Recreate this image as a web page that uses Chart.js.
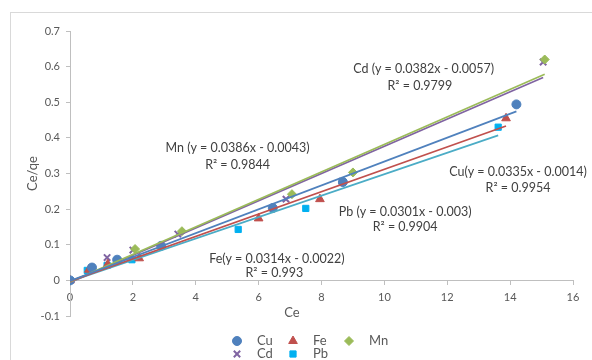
<!DOCTYPE html>
<html><head><meta charset="utf-8">
<script src="https://cdn.jsdelivr.net/npm/chart.js@4/dist/chart.umd.min.js"></script>
<style>
html,body{margin:0;padding:0;background:#fff;overflow:hidden;width:592px;height:360px}
#frame{position:absolute;left:10px;top:12px;width:700px;height:500px;border:1px solid #d9d9d9;box-sizing:border-box}
#wrap{position:absolute;left:0;top:0;width:592px;height:360px}
</style></head>
<body><div id="frame"></div><div id="wrap"><canvas id="c" width="592" height="360"></canvas></div>
<script>
// ---- data ----
const seriesNames = ['Cu', 'Fe', 'Mn', 'Cd', 'Pb'];
const cuX = [0, 0.7, 1.5, 2.9, 6.45, 8.68, 14.2];
const cuY = [0, 0.036, 0.058, 0.097, 0.203, 0.276, 0.494];
const feX = [0, 0.6, 1.2, 2.2, 6.0, 7.95, 13.87];
const feY = [0, 0.03, 0.045, 0.062, 0.174, 0.228, 0.455];
const mnX = [0, 2.07, 3.56, 7.06, 9.0, 15.1];
const mnY = [0, 0.088, 0.138, 0.242, 0.303, 0.62];
const cdX = [0, 1.18, 2.0, 3.43, 6.87, 8.65, 15.05];
const cdY = [0, 0.064, 0.085, 0.13, 0.228, 0.278, 0.613];
const pbX = [0, 0.55, 1.18, 1.97, 5.35, 7.5, 13.62];
const pbY = [0, 0.028, 0.042, 0.058, 0.143, 0.202, 0.43];
// trendline coefficients (y = slope*x + intercept)
const slopes = [0.0335, 0.0314, 0.0386, 0.0382, 0.0301];
const intercepts = [-0.0014, -0.0022, -0.0043, -0.0057, -0.003];
const eqLabels = ['Cu(y = 0.0335x - 0.0014)', 'Fe(y = 0.0314x - 0.0022)', 'Mn (y = 0.0386x - 0.0043)', 'Cd (y = 0.0382x - 0.0057)', 'Pb (y = 0.0301x - 0.003)'];
const r2Labels = ['R\u00b2 = 0.9954', 'R\u00b2 = 0.993', 'R\u00b2 = 0.9844', 'R\u00b2 = 0.9799', 'R\u00b2 = 0.9904'];
const xTicks = [0, 2, 4, 6, 8, 10, 12, 14, 16];
const yTicks = [-0.1, 0, 0.1, 0.2, 0.3, 0.4, 0.5, 0.6, 0.7];

// ---- styling ----
const xsAll = [cuX, feX, mnX, cdX, pbX];
const ysAll = [cuY, feY, mnY, cdY, pbY];
const markerColors = ['#4F81BD', '#C0504D', '#9BBB59', '#8064A2', '#00B0F0'];
const lineColors = ['#4F81BD', '#C0504D', '#9BBB59', '#8064A2', '#4BACC6'];
const markerStyles = ['circle', 'triangle', 'rectRot', 'crossRot', 'rect'];
const markerRadius = [4.5, 5, 4.5, 4.5, 4.4];
// label anchor positions in data units: [x, y] for equation line and R² line
const eqPos = [[14.25, 0.303], [6.58, 0.059], [5.33, 0.371], [11.25, 0.593], [10.66, 0.191]];
const r2Pos = [[14.25, 0.258], [6.5, 0.020], [5.33, 0.323], [11.13, 0.545], [10.66, 0.149]];

const FONT = 'Lato, "Liberation Sans", sans-serif';

const datasets = [];
seriesNames.forEach((name, i) => {
  datasets.push({
    type: 'scatter', label: name,
    data: xsAll[i].map((x, k) => ({x: x, y: ysAll[i][k]})),
    pointStyle: markerStyles[i], pointRadius: markerRadius[i],
    backgroundColor: markerColors[i], borderColor: markerColors[i],
    borderWidth: markerStyles[i] === 'crossRot' ? 2 : 1, order: 1
  });
});
seriesNames.forEach((name, i) => {
  const xmin = Math.min(...xsAll[i]), xmax = Math.max(...xsAll[i]);
  datasets.push({
    type: 'line', label: name + ' trend',
    data: [xmin, xmax].map(x => ({x: x, y: slopes[i] * x + intercepts[i]})),
    borderColor: lineColors[i], borderWidth: 1.7, pointRadius: 0,
    fill: false, tension: 0, order: 0
  });
});

const overlay = {
  id: 'overlay',
  afterDraw(chart) {
    const ctx = chart.ctx, xs = chart.scales.x, ys = chart.scales.y;
    ctx.save();
    ctx.textAlign = 'center'; ctx.textBaseline = 'middle';
    ctx.font = '12.5px ' + FONT; ctx.fillStyle = '#404040';
    for (let i = 0; i < seriesNames.length; i++) {
      ctx.fillText(eqLabels[i], xs.getPixelForValue(eqPos[i][0]), ys.getPixelForValue(eqPos[i][1]));
      ctx.fillText(r2Labels[i], xs.getPixelForValue(r2Pos[i][0]), ys.getPixelForValue(r2Pos[i][1]));
    }
    // x axis title
    ctx.fillStyle = '#595959';
    ctx.font = '13px ' + FONT;
    ctx.fillText('Ce', 292, 313);
    // legend (3 columns)
    const colX = [237, 293, 349], rowY = [341, 354];
    ctx.textAlign = 'left';
    ctx.font = '13px ' + FONT;
    seriesNames.forEach((name, i) => {
      const cx = colX[i % 3], cy = rowY[Math.floor(i / 3)];
      ctx.fillStyle = markerColors[i]; ctx.strokeStyle = markerColors[i];
      ctx.lineWidth = markerStyles[i] === 'crossRot' ? 2 : 1;
      Chart.helpers.drawPoint(ctx, {pointStyle: markerStyles[i], radius: markerRadius[i], rotation: 0, borderWidth: ctx.lineWidth}, cx, cy);
      ctx.fillStyle = '#595959';
      ctx.fillText(name, cx + 20, cy);
    });
    ctx.restore();
  }
};

function zeroPad(scale) {
  scale.paddingTop = 0; scale.paddingBottom = 0; scale.paddingLeft = 0; scale.paddingRight = 0;
}

new Chart(document.getElementById('c'), {
  data: {datasets: datasets},
  options: {
    responsive: false, animation: false, devicePixelRatio: 1,
    layout: {padding: {left: 20, top: 31, right: 19, bottom: 44}},
    plugins: {legend: {display: false}, tooltip: {enabled: false}},
    scales: {
      x: {
        type: 'linear', min: 0, max: 16, position: {y: 0},
        afterBuildTicks(s) { s.ticks = xTicks.map(v => ({value: v})); },
        afterFit(s) { s.height = 0; zeroPad(s); },
        ticks: {color: '#595959', font: {size: 11, family: FONT}, padding: 6},
        grid: {drawOnChartArea: false, tickLength: 4, color: '#bfbfbf'},
        border: {color: '#bfbfbf'}
      },
      y: {
        type: 'linear', min: -0.1, max: 0.7, position: 'left',
        afterBuildTicks(s) { s.ticks = yTicks.map(v => ({value: v})); },
        afterFit(s) { s.width = 50; zeroPad(s); },
        ticks: {color: '#595959', font: {size: 11, family: FONT}, padding: 6,
          callback: v => String(Math.round(v * 10) / 10)},
        grid: {drawOnChartArea: false, tickLength: 4, color: '#bfbfbf'},
        border: {color: '#bfbfbf'},
        title: {display: true, text: 'Ce/qe', color: '#595959', font: {size: 13, family: FONT}, padding: {top: 5, bottom: 0}}
      }
    }
  },
  plugins: [overlay]
});
</script>
</body></html>
